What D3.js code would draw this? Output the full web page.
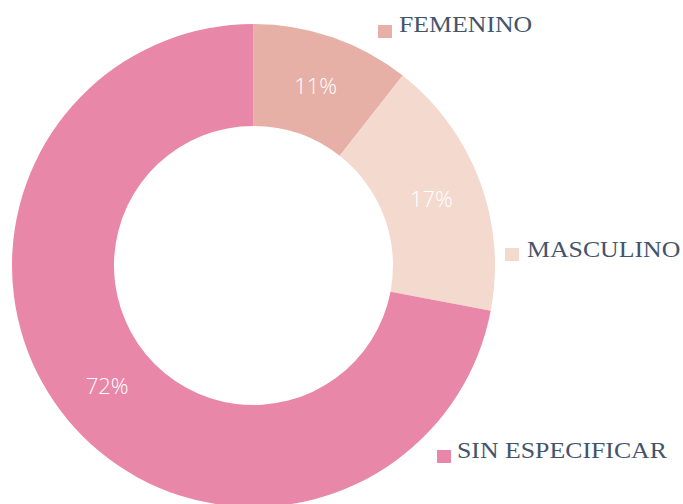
<!DOCTYPE html>
<html lang="es">
<head>
<meta charset="UTF-8">
<title>Género</title>
<script src="https://d3js.org/d3.v7.min.js"></script>
<style>
  body { margin: 0; background: #fff; }
  .legend-label { font-family: "Liberation Serif", "DejaVu Serif", serif; fill: #44546a; font-size: 24px; }
  .pct { font-family: "Open Sans", "Liberation Sans", sans-serif; font-weight: 300; fill: #fff; font-size: 22px; }
</style>
</head>
<body>
<svg id="chart" width="683" height="504"></svg>
<script>
  const categories = ["FEMENINO", "MASCULINO", "SIN ESPECIFICAR"];
  const values = [10.6, 17.4, 72.0];
  const colors = ["#e6b0a6", "#f3d9ce", "#e987a9"];

  const width = 683, height = 504;
  const cx = 253.5, cy = 265.5;
  const outerR = 241.5, innerR = 139.5;

  const svg = d3.select("#chart");
  const g = svg.append("g").attr("transform", `translate(${cx},${cy})`);

  const pie = d3.pie().sort(null).value(d => d.value);
  const arc = d3.arc().innerRadius(innerR).outerRadius(outerR);
  const labelArc = d3.arc().innerRadius(190).outerRadius(190);

  const data = categories.map((c, i) => ({ key: c, value: values[i], color: colors[i] }));
  const arcs = pie(data);

  g.selectAll("path")
    .data(arcs)
    .enter()
    .append("path")
    .attr("d", arc)
    .attr("fill", d => d.data.color);

  g.selectAll(".pct")
    .data(arcs)
    .enter()
    .append("text")
    .attr("class", "pct")
    .attr("transform", d => `translate(${labelArc.centroid(d)})`)
    .attr("text-anchor", "middle")
    .attr("dy", "0.35em")
    .text(d => Math.round(d.data.value) + "%");

  // legend entries placed next to their slices
  const legendPos = [
    { x: 378, y: 25, tx: 399, ty: 32 },
    { x: 505, y: 248, tx: 527, ty: 257 },
    { x: 437, y: 450, tx: 457, ty: 458 }
  ];

  const legend = svg.selectAll(".legend")
    .data(data)
    .enter()
    .append("g")
    .attr("class", "legend");

  legend.append("rect")
    .attr("x", (d, i) => legendPos[i].x)
    .attr("y", (d, i) => legendPos[i].y)
    .attr("width", 14)
    .attr("height", 13)
    .attr("fill", d => d.color);

  // the original serif is a bit wider than Liberation Serif, stretch a little
  legend.append("text")
    .attr("class", "legend-label")
    .attr("transform", (d, i) => `translate(${legendPos[i].tx},${legendPos[i].ty}) scale(1.075,1)`)
    .text(d => d.key);
</script>
</body>
</html>
